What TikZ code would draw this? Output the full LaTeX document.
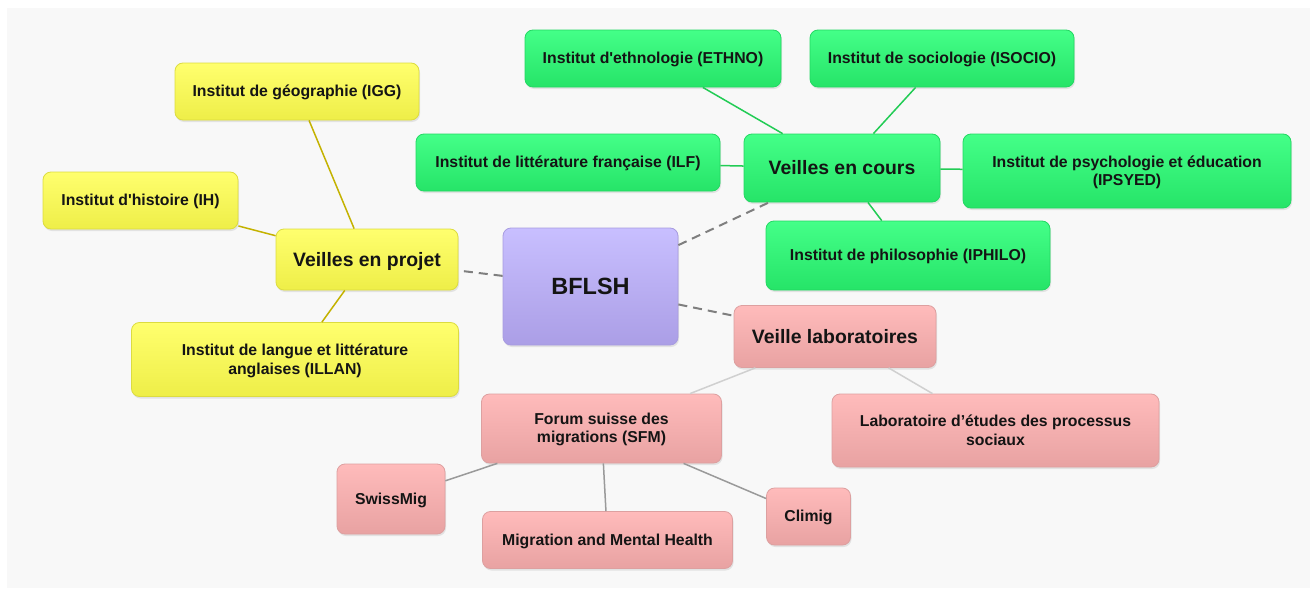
\documentclass[tikz,border=0pt]{standalone}
\usepackage{fontspec}
\setmainfont{Liberation Sans}[Ligatures=TeXOff]
\usetikzlibrary{shadows}
\definecolor{bgpanel}{HTML}{F8F8F8}
\definecolor{txt}{HTML}{141414}
\definecolor{ytop}{HTML}{FFFF6E}
\definecolor{ybot}{HTML}{EEEE48}
\definecolor{yborder}{HTML}{DCDC40}
\definecolor{yedge}{HTML}{C4B200}
\definecolor{gtop}{HTML}{44FF88}
\definecolor{gbot}{HTML}{26E468}
\definecolor{gborder}{HTML}{22D862}
\definecolor{gedge}{HTML}{22CC55}
\definecolor{ptop}{HTML}{FFBBBB}
\definecolor{pbot}{HTML}{E8A2A2}
\definecolor{pborder}{HTML}{DDA0A0}
\definecolor{ltop}{HTML}{C8BFFF}
\definecolor{lbot}{HTML}{AB9EE6}
\definecolor{lborder}{HTML}{A89CE0}
\definecolor{dashgray}{HTML}{7F7F7F}
\definecolor{lightedge}{HTML}{D0D0D0}
\definecolor{midedge}{HTML}{9A9A9A}
\begin{document}
\begin{tikzpicture}[x=1pt,y=-1pt,
  box/.style={rounded corners=8pt, inner sep=0pt, align=center, text=txt,
    font=\bfseries\fontsize{15.8}{18.5}\selectfont, line width=0.8pt, text depth=1pt,
    drop shadow={opacity=0.18, shadow xshift=1pt, shadow yshift=-2pt}},
  ybox/.style={box, draw=yborder, top color=ytop, bottom color=ybot},
  gbox/.style={box, draw=gborder, top color=gtop, bottom color=gbot},
  pbox/.style={box, draw=pborder, top color=ptop, bottom color=pbot},
  lbox/.style={box, draw=lborder, top color=ltop, bottom color=lbot},
  head/.style={font=\bfseries\fontsize{19.4}{22}\selectfont},
  sz/.style n args={2}{minimum width=#1pt, minimum height=#2pt},
  yedgeline/.style={draw=yedge, line width=1.5pt},
  gedgeline/.style={draw=gedge, line width=1.5pt},
  dashline/.style={draw=dashgray, line width=2pt, dash pattern=on 9pt off 6pt},
  lightline/.style={draw=lightedge, line width=1.5pt},
  midline/.style={draw=midedge, line width=1.5pt}]
\useasboundingbox (0,0) rectangle (1315,589);
\fill[white] (0,0) rectangle (1315,589);
\fill[bgpanel] (7,8) rectangle (1310,588);

% nodes
\node[lbox, sz={175}{117}, font=\bfseries\fontsize{23.5}{28}\selectfont] (bflsh) at (590.5,286.5) {BFLSH};

\node[ybox, head, sz={182}{61}] (vep) at (367,259.5) {Veilles en projet};
\node[ybox, sz={244}{57}] (igg) at (297,91.5) {Institut de géographie (IGG)};
\node[ybox, sz={195}{57}] (ih) at (140.5,200.5) {Institut d'histoire (IH)};
\node[ybox, sz={327}{74}] (illan) at (295,359.5) {Institut de langue et littérature\\anglaises (ILLAN)};

\node[gbox, head, sz={196}{68}] (vec) at (842,168) {Veilles en cours};
\node[gbox, sz={256}{57}] (ethno) at (653,58.5) {Institut d'ethnologie (ETHNO)};
\node[gbox, sz={264}{57}] (isocio) at (942,58.5) {Institut de sociologie (ISOCIO)};
\node[gbox, sz={304}{57}] (ilf) at (568,162.5) {Institut de littérature française (ILF)};
\node[gbox, sz={328}{74}] (ipsyed) at (1127,171) {Institut de psychologie et éducation\\(IPSYED)};
\node[gbox, sz={284}{69}] (iphilo) at (908,255.5) {Institut de philosophie (IPHILO)};

\node[pbox, head, sz={202}{62}] (vl) at (835,336.5) {Veille laboratoires};
\node[pbox, sz={327}{73}] (labo) at (995.5,430.5) {Laboratoire d’études des processus\\sociaux};
\node[pbox, sz={240}{69}] (sfm) at (601.5,428.5) {Forum suisse des\\migrations (SFM)};
\node[pbox, sz={108}{70}] (swiss) at (391,499) {SwissMig};
\node[pbox, sz={250}{57}] (mmh) at (607.5,540) {Migration and Mental Health};
\node[pbox, sz={84}{57}] (climig) at (808.5,516.5) {Climig};

% connectors
\draw[dashline] (bflsh) -- (vep);
\draw[dashline] (bflsh) -- (vec);
\draw[dashline] (bflsh) -- (vl);

\draw[yedgeline] (vep) -- (igg);
\draw[yedgeline] (vep) -- (ih);
\draw[yedgeline] (vep) -- (illan);

\draw[gedgeline] (vec) -- (ethno);
\draw[gedgeline] (vec) -- (isocio);
\draw[gedgeline] (vec) -- (ilf);
\draw[gedgeline] (vec) -- (ipsyed);
\draw[gedgeline] (vec) -- (iphilo);

\draw[lightline] (vl) -- (sfm);
\draw[lightline] (vl) -- (labo);

\draw[midline] (sfm) -- (swiss);
\draw[midline] (sfm) -- (mmh);
\draw[midline] (sfm) -- (climig);
\end{tikzpicture}
\end{document}
